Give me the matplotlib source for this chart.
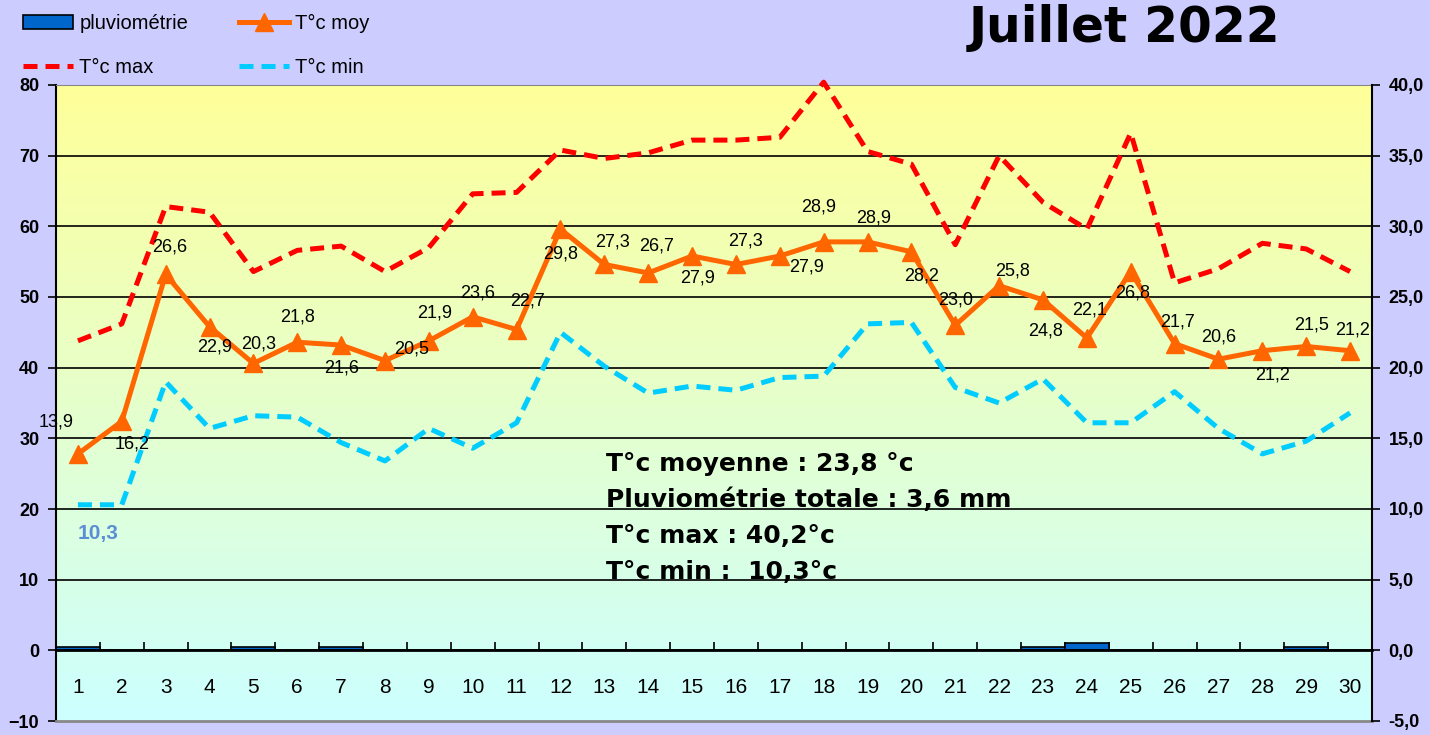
import numpy as np
import matplotlib
matplotlib.use('Agg')
import matplotlib.pyplot as plt
from matplotlib.colors import LinearSegmentedColormap

plt.rcParams['font.family'] = ['Liberation Sans', 'DejaVu Sans']

days = list(range(1, 31))
pluie = [0.5, 0, 0, 0, 0.5, 0, 0.5, 0, 0, 0, 0, 0, 0, 0, 0,
         0, 0, 0, 0, 0, 0, 0, 0.5, 1.1, 0, 0, 0, 0, 0.5, 0]
t_moy = [13.9, 16.2, 26.6, 22.9, 20.3, 21.8, 21.6, 20.5, 21.9, 23.6,
         22.7, 29.8, 27.3, 26.7, 27.9, 27.3, 27.9, 28.9, 28.9, 28.2,
         23.0, 25.8, 24.8, 22.1, 26.8, 21.7, 20.6, 21.2, 21.5, 21.2]
t_max = [21.9, 23.1, 31.4, 31.0, 26.8, 28.3, 28.6, 26.8, 28.5, 32.3,
         32.4, 35.4, 34.8, 35.2, 36.1, 36.1, 36.3, 40.2, 35.3, 34.4,
         28.7, 35.0, 31.7, 29.8, 36.6, 26.0, 27.0, 28.8, 28.4, 26.8]
t_min = [10.3, 10.3, 19.0, 15.7, 16.6, 16.5, 14.7, 13.4, 15.7, 14.3,
         16.1, 22.5, 20.1, 18.2, 18.7, 18.4, 19.3, 19.4, 23.1, 23.2,
         18.6, 17.5, 19.2, 16.1, 16.1, 18.3, 15.7, 13.9, 14.8, 16.8]
stats = ['T°c moyenne : 23,8 °c', 'Pluviométrie totale : 3,6 mm',
         'T°c max : 40,2°c', 'T°c min :  10,3°c']

# label offsets (pixels) for the T moy values
lab_off = [(-22, 32), (10, -23), (4, 27), (5, -20), (5, 19), (0, 25),
           (0, -23), (27, 12), (6, 28), (5, 24), (11, 29), (0, -25),
           (8, 22), (8, 27), (5, -22), (10, 23), (27, -11), (-5, 35),
           (6, 24), (10, -24), (0, 25), (13, 15), (3, -31), (3, 28),
           (2, -21), (3, 22), (0, 22), (10, -24), (5, 21), (2, 21)]

bg = '#CCCCFF'
fig = plt.figure(figsize=(14.3, 7.35), dpi=100, facecolor=bg)
ax = fig.add_axes([56/1430, 14/735, 1316/1430, 636/735])
ax.set_xlim(0.5, 30.5)
ax.set_ylim(-10, 80)

cmap = LinearSegmentedColormap.from_list('g', ['#CCFFFF', '#FFFF99'])
ax.imshow(np.linspace(0, 1, 256).reshape(-1, 1), cmap=cmap, aspect='auto',
          extent=(0, 1, 0, 1), transform=ax.transAxes, origin='lower',
          zorder=0)
for v in range(10, 80, 10):
    ax.axhline(v, color='black', lw=1.2, zorder=1)

ax.bar(days, pluie, width=1.0, color='#0066CC', edgecolor='black',
       lw=1.2, zorder=2, label='pluviométrie')

ax.spines['bottom'].set_position(('data', 0))
ax.spines['bottom'].set_linewidth(2)
ax.spines['top'].set_color('#888888')
ax.spines['left'].set_linewidth(1.5)
ax.spines['right'].set_visible(False)
ax.axhline(-10, color='#888888', lw=2, clip_on=False, zorder=5)
ax.set_xticks(np.arange(0.5, 30.6, 1))
ax.set_xticklabels([])
ax.tick_params(axis='x', direction='in', length=6, width=1.2)
ax.set_yticks(range(-10, 81, 10))
ax.tick_params(axis='y', direction='out', length=6, width=1.2,
               labelsize=13, pad=6)
for t in ax.get_yticklabels():
    t.set_fontweight('bold')
for d in days:
    ax.text(d, -5.2, str(d), ha='center', va='center', fontsize=15,
            zorder=6)

ax2 = ax.twinx()
ax2.set_ylim(-5, 40)
ax2.set_xlim(0.5, 30.5)
for s in ['top', 'bottom', 'left']:
    ax2.spines[s].set_visible(False)
ax2.spines['right'].set_linewidth(1.5)
ax2.set_yticks(np.arange(-5, 41, 5))
ax2.set_yticklabels([f'{v:.1f}'.replace('.', ',') for v in np.arange(-5, 41, 5)],
                    fontweight='bold')
ax2.tick_params(axis='y', direction='out', length=6, width=1.2,
                labelsize=13, pad=6)

l_max, = ax2.plot(days, t_max, color='#FF0000', lw=3.6, dashes=(2.8, 1.6),
                  label='T°c max', clip_on=False)
l_min, = ax2.plot(days, t_min, color='#00CCFF', lw=3.6, dashes=(2.8, 1.6),
                  label='T°c min')
l_moy, = ax2.plot(days, t_moy, color='#FF6600', lw=3.6, marker='^',
                  markersize=13, label='T°c moy')

for d, v, off in zip(days, t_moy, lab_off):
    ax2.annotate(f'{v:.1f}'.replace('.', ','), (d, v), xytext=off,
                 textcoords='offset pixels', ha='center', va='center',
                 fontsize=13)

i_max = int(np.argmax(t_max))
ax2.annotate(f'{t_max[i_max]:.1f}'.replace('.', ','), (days[i_max], t_max[i_max]),
             xytext=(56, -22), textcoords='offset pixels', ha='center',
             va='center', fontsize=15, fontweight='bold', color='#FF0000')
i_min = int(np.argmin(t_min))
ax2.annotate(f'{t_min[i_min]:.1f}'.replace('.', ','), (days[i_min], t_min[i_min]),
             xytext=(20, -29), textcoords='offset pixels', ha='center',
             va='center', fontsize=15, fontweight='bold', color='#5B8ED6')

for i, s in enumerate(stats):
    fig.text(606/1430, 1 - (464 + 36*i)/735, s, ha='left', va='center',
             fontsize=18, fontweight='bold', family='DejaVu Sans')

fig.text(1124/1430, 1 - 28/735, 'Juillet 2022', ha='center', va='center',
         fontsize=35, fontweight='bold', family='DejaVu Sans')

handles = [ax.containers[0], l_max, l_moy, l_min]
fig.legend(handles, ['pluviométrie', 'T°c max', 'T°c moy', 'T°c min'],
           loc='upper left', bbox_to_anchor=(15/1430, 1 - 6/735), ncol=2,
           frameon=False, fontsize=14.5, handlelength=2.5, handletextpad=0.3,
           columnspacing=2.5, labelspacing=1.25, borderaxespad=0)

fig.savefig('out.png', dpi=100, facecolor=bg)
